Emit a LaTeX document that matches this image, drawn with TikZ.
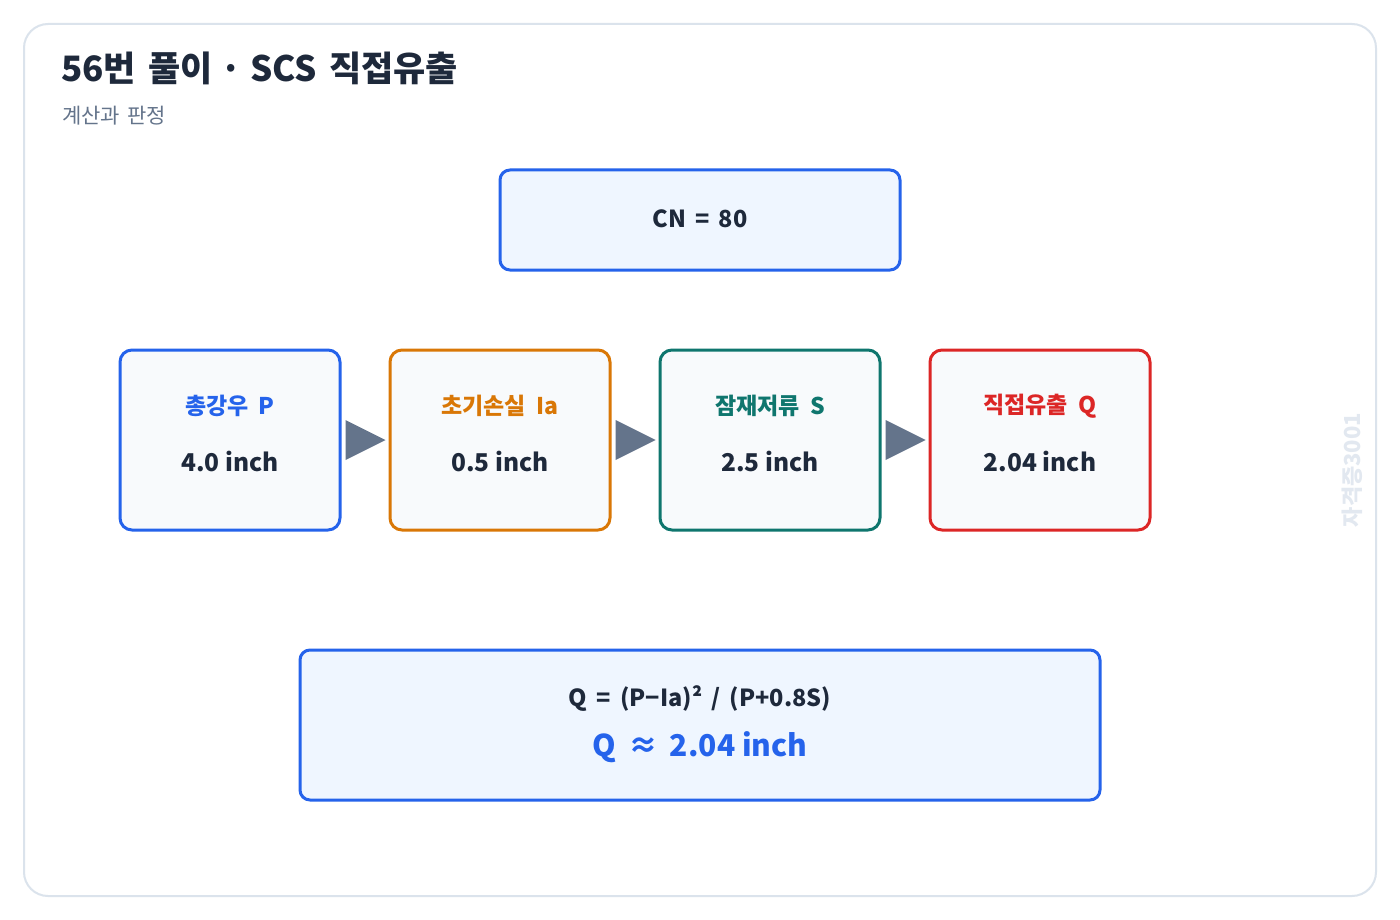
\documentclass[tikz,border=0pt]{standalone}
\usepackage{fontspec}
\usetikzlibrary{calc}
\setmainfont{Noto Sans CJK KR}
\definecolor{frameC}{HTML}{DBE3EC}
\definecolor{ink}{HTML}{1E293B}
\definecolor{sub}{HTML}{64748B}
\definecolor{blueC}{HTML}{2563EB}
\definecolor{orangeC}{HTML}{D97706}
\definecolor{tealC}{HTML}{0F766E}
\definecolor{redC}{HTML}{DC2626}
\definecolor{lightblue}{HTML}{EFF6FF}
\definecolor{boxfill}{HTML}{F8FAFC}
\definecolor{arrowC}{HTML}{64748B}
\definecolor{wm}{HTML}{E2E8F0}
\tikzset{
  stagebox/.style={draw=#1, line width=3pt, fill=boxfill, rounded corners=12pt, minimum width=220pt, minimum height=180pt, inner sep=0pt},
  infobox/.style={draw=blueC, line width=3pt, fill=lightblue, rounded corners=10pt, inner sep=0pt},
  lbl/.style={font=\fontsize{23}{27}\selectfont\bfseries, text=#1},
  val/.style={font=\fontsize{24.5}{28}\selectfont\bfseries, text=ink},
  tri/.style={fill=arrowC, draw=none},
}
\newcommand{\wsp}{\hspace{0.45em}}
\newcommand{\tsp}{\hspace{0.35em}}
\begin{document}
\begin{tikzpicture}[x=1pt,y=-1pt]
\useasboundingbox (0,0) rectangle (1400,920);
\fill[white] (0,0) rectangle (1400,920);
\draw[frameC, line width=2pt, rounded corners=24pt] (24,24) rectangle (1376,896);
\node[anchor=west, inner sep=0pt, text=ink, font=\fontsize{35}{40}\selectfont\bfseries] (title) at (61,68) {56번\tsp 풀이 · SCS\tsp 직접유출};
\node[anchor=west, inner sep=0pt, text=sub, font=\fontsize{21}{25}\selectfont] (subtitle) at (62,116) {계산과\tsp 판정};
% CN box
\node[infobox, minimum width=400pt, minimum height=100pt] (cn) at (700,220) {};
\node[val, font=\fontsize{23.5}{27}\selectfont\bfseries] (cnt) at (700,219) {CN \,=\, 80};
% stage boxes
\node[stagebox=blueC] (b1) at (230,440) {};
\node[stagebox=orangeC] (b2) at (500,440) {};
\node[stagebox=tealC] (b3) at (770,440) {};
\node[stagebox=redC] (b4) at (1040,440) {};
\node[lbl=blueC] (l1) at (230,406) {총강우\wsp P};
\node[lbl=orangeC] (l2) at (500,406) {초기손실\wsp Ia};
\node[lbl=tealC] (l3) at (770,406) {잠재저류\wsp S};
\node[lbl=redC] (l4) at (1040,406) {직접유출\wsp Q};
\node[val] (v1) at (230,461) {4.0 inch};
\node[val] (v2) at (500,461) {0.5 inch};
\node[val] (v3) at (770,461) {2.5 inch};
\node[val] (v4) at (1040,461) {2.04 inch};
% triangles
\foreach \a in {b1,b2,b3}{
  \path[tri] ($(\a.east)+(4,-20)$) -- ($(\a.east)+(44,0)$) -- ($(\a.east)+(4,20)$) -- cycle;
}
% result box
\node[infobox, minimum width=800pt, minimum height=150pt] (res) at (700,725) {};
\node[val, font=\fontsize{23.5}{27}\selectfont\bfseries] (f) at (700,699) {Q \,=\, (P−Ia)² \,/\, (P+0.8S)};
\node[font=\fontsize{30}{34}\selectfont\bfseries, text=blueC] (q) at (700,747) {Q \,≈\, 2.04 inch};
% watermark
\node[rotate=90, text=wm, font=\fontsize{22}{26}\selectfont\bfseries] (wmk) at (1352,470) {자격증3001};
\end{tikzpicture}
\end{document}
